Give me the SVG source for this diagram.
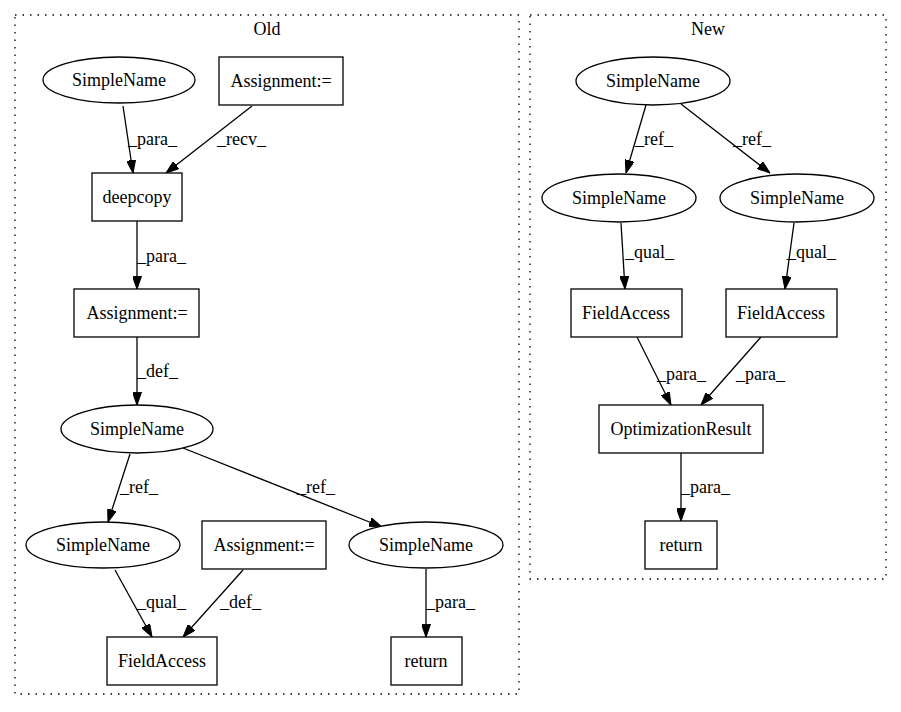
<svg xmlns="http://www.w3.org/2000/svg" width="901" height="712" viewBox="0 0 901 712">
<defs>
<style>
text{font-family:'Liberation Serif','Times New Roman',Times,'DejaVu Serif',serif;font-size:18px;fill:#000}
.n{fill:#fff;stroke:#000;stroke-width:1.3}
.c{fill:none;stroke:#000;stroke-width:1.3;stroke-dasharray:1.5,6}
.e{fill:none;stroke:#000;stroke-width:1.3;marker-end:url(#arr)}
.m{text-anchor:middle}
</style>
<marker id="arr" viewBox="0 0 10 7" refX="10" refY="3.5" markerWidth="13" markerHeight="9" markerUnits="userSpaceOnUse" orient="auto">
<path d="M0,0 L10,3.5 L0,7 z" fill="#000" stroke="#000" stroke-width="0.8"/>
</marker>
</defs>
<rect width="901" height="712" fill="#fff"/>
<g id="cluster_old">
<rect class="c" x="15" y="15" width="504" height="679"/>
<text class="m" x="267" y="35" font-family="Liberation Serif, serif">Old</text>
</g>
<g id="cluster_new">
<rect class="c" x="530" y="15" width="356" height="564"/>
<text class="m" x="708" y="35">New</text>
</g>
<g id="edges">
<path class="e" d="M123,106 L133,173"/>
<text x="128" y="145">_para_</text>
<path class="e" d="M252,106 L166,173"/>
<text x="217" y="145">_recv_</text>
<path class="e" d="M137,221 L137,289"/>
<text x="137" y="262">_para_</text>
<path class="e" d="M137,337 L137,405"/>
<text x="137" y="377">_def_</text>
<path class="e" d="M130,454 L108,522"/>
<text x="120" y="493">_ref_</text>
<path class="e" d="M183,448 L382,527"/>
<text x="297" y="493">_ref_</text>
<path class="e" d="M115,570 L152,637"/>
<text x="137" y="608">_qual_</text>
<path class="e" d="M243,570 L183,637"/>
<text x="220" y="608">_def_</text>
<path class="e" d="M426,569 L426,637"/>
<text x="426" y="608">_para_</text>
<path class="e" d="M646,105 L626,173"/>
<text x="635" y="145">_ref_</text>
<path class="e" d="M681,104 L770,173"/>
<text x="733" y="145">_ref_</text>
<path class="e" d="M621,223 L625,289"/>
<text x="625" y="258">_qual_</text>
<path class="e" d="M794,223 L785,289"/>
<text x="787" y="258">_qual_</text>
<path class="e" d="M637,337 L671,405"/>
<text x="657" y="380">_para_</text>
<path class="e" d="M761,337 L701,405"/>
<text x="736" y="380">_para_</text>
<path class="e" d="M681,453 L681,521"/>
<text x="681" y="493">_para_</text>
</g>
<g id="old_simplename1"><ellipse class="n" cx="119" cy="80" rx="76" ry="23"/><text class="m" x="119" y="86">SimpleName</text></g>
<g id="old_assign1"><rect class="n" x="219" y="57" width="124" height="48"/><text class="m" x="281" y="87">Assignment:=</text></g>
<g id="old_deepcopy"><rect class="n" x="92" y="173" width="90" height="48"/><text class="m" x="137" y="203">deepcopy</text></g>
<g id="old_assign2"><rect class="n" x="74" y="289" width="125" height="48"/><text class="m" x="137" y="319">Assignment:=</text></g>
<g id="old_simplename2"><ellipse class="n" cx="137" cy="429" rx="76" ry="24"/><text class="m" x="137" y="435">SimpleName</text></g>
<g id="old_simplename3"><ellipse class="n" cx="103" cy="545" rx="77" ry="23"/><text class="m" x="103" y="551">SimpleName</text></g>
<g id="old_assign3"><rect class="n" x="202" y="521" width="124" height="48"/><text class="m" x="264" y="551">Assignment:=</text></g>
<g id="old_simplename4"><ellipse class="n" cx="426" cy="545" rx="77" ry="23"/><text class="m" x="426" y="551">SimpleName</text></g>
<g id="old_fieldaccess"><rect class="n" x="107" y="637" width="110" height="48"/><text class="m" x="162" y="667">FieldAccess</text></g>
<g id="old_return"><rect class="n" x="391" y="637" width="71" height="48"/><text class="m" x="426" y="667">return</text></g>
<g id="new_simplename1"><ellipse class="n" cx="653" cy="81" rx="77" ry="24"/><text class="m" x="653" y="87">SimpleName</text></g>
<g id="new_simplename2"><ellipse class="n" cx="619" cy="198" rx="77" ry="24"/><text class="m" x="619" y="204">SimpleName</text></g>
<g id="new_simplename3"><ellipse class="n" cx="797" cy="198" rx="77" ry="24"/><text class="m" x="797" y="204">SimpleName</text></g>
<g id="new_fieldaccess1"><rect class="n" x="571" y="289" width="111" height="48"/><text class="m" x="626" y="319">FieldAccess</text></g>
<g id="new_fieldaccess2"><rect class="n" x="726" y="289" width="111" height="48"/><text class="m" x="781" y="319">FieldAccess</text></g>
<g id="new_optresult"><rect class="n" x="599" y="405" width="164" height="48"/><text class="m" x="681" y="435">OptimizationResult</text></g>
<g id="new_return"><rect class="n" x="645" y="521" width="72" height="48"/><text class="m" x="681" y="551">return</text></g>
</svg>
